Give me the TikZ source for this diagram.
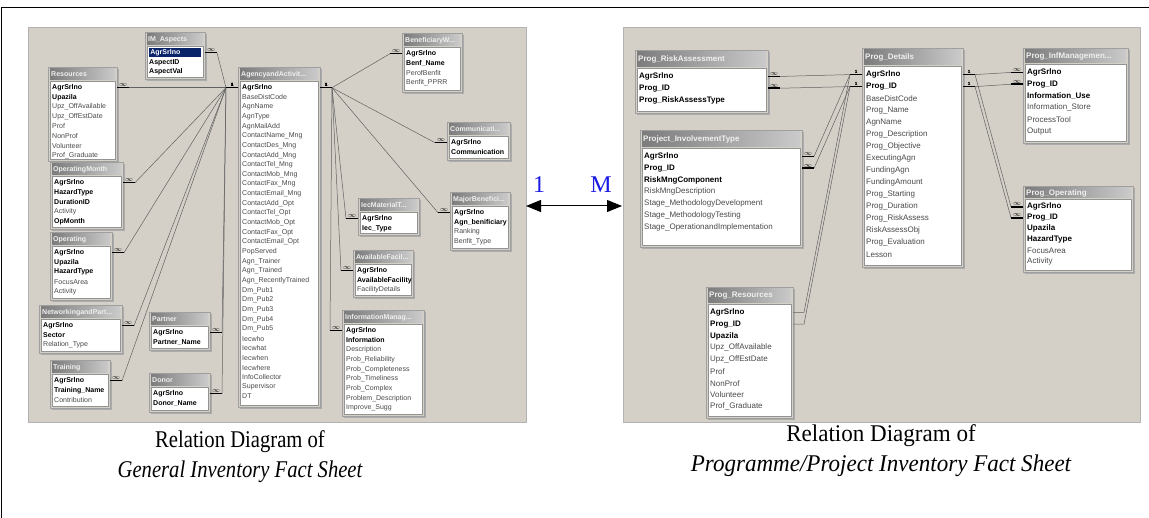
\documentclass[tikz,border=0pt]{standalone}
\usepackage{fontspec}
\setmainfont{Liberation Serif}
\newfontfamily\tabfont{Liberation Sans}
\usetikzlibrary{arrows.meta}

\definecolor{winbg}{HTML}{D4D0C8}
\definecolor{hdark}{HTML}{7C7C7C}
\definecolor{hlight}{HTML}{CACACA}
\definecolor{fieldgray}{HTML}{4A4A4A}
\definecolor{selnavy}{HTML}{0A246A}
\definecolor{lblblue}{HTML}{1A1AE6}

% field text kinds: key field, normal field, selected field
\newcommand{\kf}[1]{{\bfseries\color{black}#1}}
\newcommand{\nf}[1]{{\color{fieldgray}#1}}
\newcommand{\sel}[1]{{\setlength\fboxsep{1.2pt}\colorbox{selnavy}{\makebox[49pt][l]{\bfseries\color{white}#1}}}}
\newcommand{\tabsize}{\fontsize{7}{7}\selectfont}

\tikzset{
	tabshadow/.style={fill=gray!65},
	tabframe/.style={fill=winbg, draw=gray!75, line width=0.4pt},
	tabhead/.style={left color=hdark, right color=hlight},
	tablist/.style={fill=white, draw=gray!85, line width=0.4pt},
	tabtitle/.style={anchor=west, inner sep=0pt, text=white!88!gray, font=\tabfont\bfseries\tabsize},
	fieldtxt/.style={anchor=west, inner sep=0pt, font=\tabfont\tabsize},
	relline/.style={draw=black!62, line width=0.5pt},
	relbar/.style={draw=black, line width=1.5pt},
	keyone/.style={above=0.8pt, inner sep=0pt, font=\tabfont\bfseries\fontsize{4.5}{4.5}\selectfont},
	keymany/.style={above=0.2pt, inner sep=0pt, font=\fontsize{7}{7}\selectfont},
	captxt/.style={align=center, inner sep=0pt, font=\fontsize{24}{30}\selectfont},
	reltxt/.style={inner sep=0pt, text=lblblue, font=\fontsize{24}{24}\selectfont}
}

% table: name, x1, y1, x2, y2, header height, row step, title, rows
\newcommand{\dbtable}[9]{%
	\fill[tabshadow] (#2+2,#3+2) rectangle (#4+2,#5+2);
	\filldraw[tabframe] (#2,#3) rectangle (#4,#5);
	\shade[tabhead] (#2+2,#3+2) rectangle (#4-2,#3+#6);
	\filldraw[tablist] (#2+2,#3+#6+1.5) rectangle (#4-2,#5-2);
	\node[tabtitle] (#1) at (#2+3,#3+1+#6/2) {#8};
	\foreach \fs/\fn [count=\k] in {#9} {
		\pgfmathsetmacro\ry{#3+#6+(\k-0.2)*#7}
		\coordinate (#1-\k-l) at (#2,\ry);
		\coordinate (#1-\k-r) at (#4,\ry);
		\node[fieldtxt] (#1-f\k) at (#2+4,\ry) {\fs{\fn}};
	}
}

% relation: one side, many side, direction of each stub (1 right, -1 left)
\newcommand{\dbrel}[4]{%
	\path (#1) ++(#3*12,0) coordinate (ka);
	\path (#2) ++(#4*12,0) coordinate (kb);
	\draw[relline] (ka) -- (kb);
	\draw[relbar] (#1) -- (ka) node[keyone, pos=0.5] {1};
	\draw[relbar] (#2) -- (kb) node[keymany, pos=0.5] {$\infty$};
}

\begin{document}
\begin{tikzpicture}[x=1pt, y=-1pt, line join=round]
	\useasboundingbox (0,0) rectangle (1149,518);

	% 1. Frame and the two gray panels
	\draw[line width=1pt] (1.5,518) -- (1.5,7.5) -- (1149,7.5);
	\filldraw[fill=winbg, draw=gray!60, line width=0.4pt] (28,27) rectangle (526,422);
	\filldraw[fill=winbg, draw=gray!60, line width=0.4pt] (623,27) rectangle (1140,422);

	% 2. General inventory tables
	\dbtable{imasp}{145}{32}{205}{79}{13}{9.65}{IM\_Aspects}{\sel/AgrSrlno, \kf/AspectID, \kf/AspectVal}
	\dbtable{resrc}{48}{67}{117}{161}{13}{9.65}{Resources}{\kf/AgrSrlno, \kf/Upazila, \nf/Upz\_OffAvailable, \nf/Upz\_OffEstDate, \nf/Prof, \nf/NonProf, \nf/Volunteer, \nf/Prof\_Graduate}
	\dbtable{opmon}{50}{162}{123}{229}{13}{9.65}{OperatingMonth}{\kf/AgrSrlno, \kf/HazardType, \kf/DurationID, \nf/Activity, \kf/OpMonth}
	\dbtable{oper}{50}{232}{112}{300}{13}{9.65}{Operating}{\kf/AgrSrlno, \kf/Upazila, \kf/HazardType, \nf/FocusArea, \nf/Activity}
	\dbtable{netw}{39}{305}{122}{353}{13}{9.65}{NetworkingandPart...}{\kf/AgrSrlno, \kf/Sector, \nf/Relation\_Type}
	\dbtable{train}{50}{360}{110}{408}{13}{9.65}{Training}{\kf/AgrSrlno, \kf/Training\_Name, \nf/Contribution}
	\dbtable{partner}{149}{312}{210}{350}{13}{9.65}{Partner}{\kf/AgrSrlno, \kf/Partner\_Name}
	\dbtable{donor}{149}{373}{210}{412}{13}{9.65}{Donor}{\kf/AgrSrlno, \kf/Donor\_Name}
	\dbtable{agency}{238}{67}{320}{407}{13}{9.65}{AgencyandActivit...}{\kf/AgrSrlno, \nf/BaseDistCode, \nf/AgnName, \nf/AgnType, \nf/AgnMailAdd, \nf/ContactName\_Mng, \nf/ContactDes\_Mng, \nf/ContactAdd\_Mng, \nf/ContactTel\_Mng, \nf/ContactMob\_Mng, \nf/ContactFax\_Mng, \nf/ContactEmail\_Mng, \nf/ContactAdd\_Opt, \nf/ContactTel\_Opt, \nf/ContactMob\_Opt, \nf/ContactFax\_Opt, \nf/ContactEmail\_Opt, \nf/PopServed, \nf/Agn\_Trainer, \nf/Agn\_Trained, \nf/Agn\_RecentlyTrained, \nf/Dm\_Pub1, \nf/Dm\_Pub2, \nf/Dm\_Pub3, \nf/Dm\_Pub4, \nf/Dm\_Pub5, \nf/Iecwho, \nf/Iecwhat, \nf/Iecwhen, \nf/Iecwhere, \nf/InfoCollector, \nf/Supervisor, \nf/DT}
	\dbtable{benef}{402}{33}{462}{92}{13}{9.65}{BeneficiaryW...}{\kf/AgrSrlno, \kf/Benf\_Name, \nf/PerofBenfit, \nf/Benfit\_PPRR}
	\dbtable{commu}{447}{122}{510}{160}{13}{9.65}{Communicati...}{\kf/AgrSrlno, \kf/Communication}
	\dbtable{major}{450}{192}{510}{250}{13}{9.65}{MajorBenefici...}{\kf/AgrSrlno, \kf/Agn\_benificiary, \nf/Ranking, \nf/Benfit\_Type}
	\dbtable{iecmat}{358}{198}{419}{235}{13}{9.65}{IecMaterialT...}{\kf/AgrSrlno, \kf/Iec\_Type}
	\dbtable{avail}{353}{250}{413}{297}{13}{9.65}{AvailableFacil...}{\kf/AgrSrlno, \kf/AvailableFacility, \nf/FacilityDetails}
	\dbtable{infom}{342}{310}{424}{416}{13}{9.65}{InformationManag...}{\kf/AgrSrlno, \kf/Information, \nf/Description, \nf/Prob\_Reliability, \nf/Prob\_Completeness, \nf/Prob\_Timeliness, \nf/Prob\_Complex, \nf/Problem\_Description, \nf/Improve\_Sugg}

	% 3. General inventory relations
	\foreach \t in {imasp, resrc, opmon, oper, netw, train, partner, donor}
		\dbrel{agency-1-l}{\t-1-r}{-1}{1};
	\foreach \t in {benef, commu, major, iecmat, avail, infom}
		\dbrel{agency-1-r}{\t-1-l}{1}{-1};

	% 4. Programme/project tables
	\renewcommand{\tabsize}{\fontsize{8}{8}\selectfont}
	\dbtable{riskas}{635}{50}{768}{113}{17}{11.8}{Prog\_RiskAssessment}{\kf/AgrSrlno, \kf/Prog\_ID, \kf/Prog\_RiskAssessType}
	\dbtable{involv}{640}{130}{802}{247}{17}{11.8}{Project\_InvolvementType}{\kf/AgrSrlno, \kf/Prog\_ID, \kf/RiskMngComponent, \nf/RiskMngDescription, \nf/Stage\_MethodologyDevelopment, \nf/Stage\_MethodologyTesting, \nf/Stage\_OperationandImplementation}
	\dbtable{details}{862}{48}{963}{267}{17}{12}{Prog\_Details}{\kf/AgrSrlno, \kf/Prog\_ID, \nf/BaseDistCode, \nf/Prog\_Name, \nf/AgnName, \nf/Prog\_Description, \nf/Prog\_Objective, \nf/ExecutingAgn, \nf/FundingAgn, \nf/FundingAmount, \nf/Prog\_Starting, \nf/Prog\_Duration, \nf/Prog\_RiskAssess, \nf/RiskAssessObj, \nf/Prog\_Evaluation, \nf/Lesson}
	\dbtable{infman}{1023}{48}{1128}{143}{15}{11.8}{Prog\_InfManagemen...}{\kf/AgrSrlno, \kf/Prog\_ID, \kf/Information\_Use, \nf/Information\_Store, \nf/ProcessTool, \nf/Output}
	\dbtable{poper}{1023}{186}{1133}{272}{12}{11}{Prog\_Operating}{\kf/AgrSrlno, \kf/Prog\_ID, \kf/Upazila, \kf/HazardType, \nf/FocusArea, \nf/Activity}
	\dbtable{presrc}{706}{287}{793}{418}{16}{11.8}{Prog\_Resources}{\kf/AgrSrlno, \kf/Prog\_ID, \kf/Upazila, \nf/Upz\_OffAvailable, \nf/Upz\_OffEstDate, \nf/Prof, \nf/NonProf, \nf/Volunteer, \nf/Prof\_Graduate}

	% 5. Programme/project relations (two key fields each)
	\foreach \t in {riskas, involv} {
		\dbrel{details-1-l}{\t-1-r}{-1}{1};
		\dbrel{details-2-l}{\t-2-r}{-1}{1};
	}
	\foreach \t in {infman, poper} {
		\dbrel{details-1-r}{\t-1-l}{1}{-1};
		\dbrel{details-2-r}{\t-2-l}{1}{-1};
	}
	% Prog_Resources joins with plain lines
	\path (details-1-l) ++(-12,0) coordinate (dl1);
	\path (details-2-l) ++(-12,0) coordinate (dl2);
	\path (presrc-1-r) ++(11,0) coordinate (pr1);
	\path (presrc-2-r) ++(11,0) coordinate (pr2);
	\draw[relline] (presrc-1-r) -- (pr1) -- (dl1);
	\draw[relline] (presrc-2-r) -- (pr2) -- (dl2);

	% 6. One-to-many arrow between the two diagrams
	\coordinate (arrL) at (526,206);
	\coordinate (arrR) at (622,206);
	\draw[{Triangle[length=15pt,width=12pt]}-{Triangle[length=15pt,width=12pt]}, line width=1pt] (arrL) -- (arrR);
	\node[reltxt] (onelbl) at (539,185) {1};
	\node[reltxt] (manylbl) at (601,185) {M};

	% 7. Captions
	\node[captxt] (capgen) at (240,457) {\scalebox{0.86}[1]{Relation Diagram of}\\\scalebox{0.86}[1]{\itshape General Inventory Fact Sheet}};
	\node[captxt] (capprog) at (881,451) {\scalebox{0.96}[1]{Relation Diagram of}\\\scalebox{0.96}[1]{\itshape Programme/Project Inventory Fact Sheet}};
\end{tikzpicture}
\end{document}
